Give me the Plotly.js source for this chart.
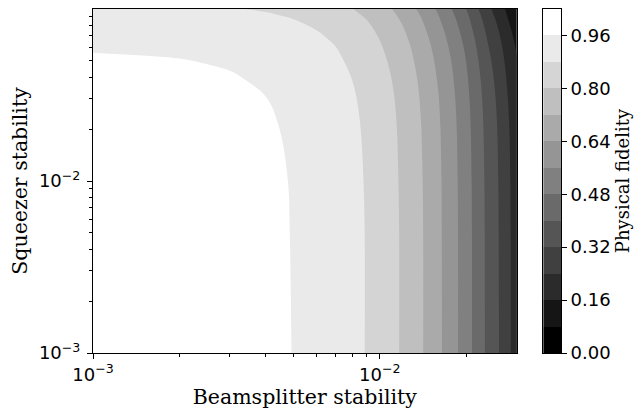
<!DOCTYPE html>
<html>
<head>
<meta charset="utf-8">
<script src="https://cdn.plot.ly/plotly-3.0.1.min.js"></script>
<style>html,body{margin:0;padding:0;background:#fff;}#chart{width:640px;height:410px;}</style>
</head>
<body>
<div id="chart"></div>
<script>
// Beamsplitter stability (x) and squeezer stability (y) grid
const bsStability = [0.001,0.002,0.003,0.004,0.005,0.006,0.007,0.008,0.009,0.010,0.011,0.012,0.013,0.014,0.016,0.018,0.020,0.022,0.024,0.026,0.028,0.030];
const sqStability = [0.001,0.005,0.01,0.02,0.03,0.04,0.05,0.06,0.07,0.08,0.09,0.1];
// Physical fidelity, one row per squeezer stability value
const fidelity = [
  [0.998,0.993,0.985,0.973,0.959,0.942,0.921,0.899,0.877,0.849,0.820,0.791,0.758,0.726,0.657,0.587,0.516,0.443,0.375,0.321,0.257,0.204],
  [0.998,0.993,0.984,0.973,0.958,0.941,0.921,0.899,0.877,0.848,0.820,0.791,0.757,0.726,0.656,0.587,0.516,0.442,0.374,0.319,0.256,0.203],
  [0.996,0.992,0.983,0.972,0.957,0.940,0.919,0.898,0.875,0.847,0.818,0.789,0.756,0.724,0.655,0.585,0.514,0.440,0.372,0.317,0.254,0.201],
  [0.992,0.987,0.979,0.967,0.953,0.936,0.915,0.893,0.871,0.842,0.814,0.785,0.751,0.719,0.650,0.580,0.509,0.434,0.366,0.311,0.248,0.195],
  [0.985,0.980,0.972,0.961,0.946,0.929,0.909,0.887,0.865,0.836,0.808,0.778,0.745,0.712,0.643,0.572,0.501,0.426,0.358,0.302,0.239,0.187],
  [0.977,0.972,0.964,0.952,0.938,0.921,0.901,0.879,0.857,0.828,0.799,0.770,0.736,0.703,0.633,0.562,0.491,0.415,0.347,0.290,0.227,0.176],
  [0.967,0.962,0.954,0.943,0.928,0.911,0.891,0.869,0.847,0.818,0.789,0.760,0.725,0.693,0.622,0.551,0.479,0.403,0.334,0.277,0.215,0.165],
  [0.955,0.950,0.942,0.931,0.917,0.900,0.881,0.858,0.836,0.807,0.778,0.748,0.714,0.681,0.610,0.538,0.466,0.389,0.319,0.263,0.201,0.152],
  [0.942,0.938,0.930,0.919,0.904,0.888,0.868,0.846,0.823,0.795,0.766,0.735,0.700,0.667,0.596,0.523,0.451,0.374,0.304,0.247,0.186,0.139],
  [0.928,0.923,0.915,0.905,0.891,0.874,0.854,0.832,0.810,0.781,0.752,0.721,0.686,0.652,0.580,0.508,0.435,0.358,0.288,0.231,0.171,0.125],
  [0.912,0.908,0.900,0.890,0.876,0.859,0.839,0.817,0.795,0.766,0.737,0.706,0.670,0.637,0.564,0.491,0.419,0.341,0.271,0.215,0.156,0.112],
  [0.896,0.892,0.884,0.874,0.860,0.844,0.824,0.802,0.780,0.751,0.721,0.690,0.654,0.620,0.547,0.473,0.401,0.323,0.254,0.198,0.141,0.099]
];
// Contour levels (0 to 1.04 in steps of 0.08) and colour bar ticks
const levels = [0,0.08,0.16,0.24,0.32,0.40,0.48,0.56,0.64,0.72,0.80,0.88,0.96,1.04];
const cbTicks = [0,0.16,0.32,0.48,0.64,0.80,0.96];
const xTickVals = [0.001, 0.01];
const xTickText = ['10<sup>\u22123</sup>', '10<sup>\u22122</sup>'];
const yTickVals = [0.001, 0.01];
const yTickText = ['10<sup>\u22123</sup>', '10<sup>\u22122</sup>'];
const xMinor = [0.002,0.003,0.004,0.005,0.006,0.007,0.008,0.009,0.02];
const yMinor = [0.002,0.003,0.004,0.005,0.006,0.007,0.008,0.009,0.02,0.03,0.04,0.05,0.06,0.07,0.08,0.09];

const step = levels[1] - levels[0];
const bandMid = levels.slice(0, -1).map(v => v + step / 2);
const gray = [[0, '#000000'], [1, '#ffffff']];

const tickFont = {family: 'DejaVu Sans', size: 18, color: '#000'};
const titleFont = {family: 'DejaVu Serif', size: 20.5, color: '#000'};
const cbTitleFont = {family: 'DejaVu Serif', size: 18, color: '#000'};

const main = {
  type: 'contour',
  x: bsStability, y: sqStability, z: fidelity,
  autocontour: false,
  contours: {start: levels[1], end: levels[levels.length - 2], size: step, coloring: 'fill', showlines: false},
  line: {width: 0},
  colorscale: gray,
  showscale: false,
  hoverinfo: 'skip'
};
const bar = {
  type: 'heatmap',
  x: [0], y: bandMid, z: bandMid.map(v => [v]),
  zmin: bandMid[0], zmax: bandMid[bandMid.length - 1],
  colorscale: gray, showscale: false,
  xaxis: 'x2', yaxis: 'y2', hoverinfo: 'skip'
};

const layout = {
  width: 640, height: 410,
  margin: {l: 93, r: 79, t: 9, b: 57},
  paper_bgcolor: '#fff', plot_bgcolor: '#fff',
  showlegend: false,
  xaxis: {
    type: 'log', domain: [0, 0.9053], range: [Math.log10(bsStability[0]), Math.log10(bsStability[bsStability.length - 1])],
    tickmode: 'array', tickvals: xTickVals, ticktext: xTickText,
    ticks: 'outside', ticklen: 5, tickwidth: 1, tickcolor: '#000',
    minor: {tickmode: 'array', tickvals: xMinor, ticks: 'outside', ticklen: 3, tickwidth: 1, tickcolor: '#000'},
    showline: true, linecolor: '#000', linewidth: 1, mirror: true,
    showgrid: false, zeroline: false, tickfont: tickFont,
    title: {text: 'Beamsplitter stability', font: titleFont, standoff: 6}
  },
  yaxis: {
    type: 'log', range: [Math.log10(sqStability[0]), Math.log10(sqStability[sqStability.length - 1])],
    tickmode: 'array', tickvals: yTickVals, ticktext: yTickText,
    ticks: 'outside', ticklen: 5, tickwidth: 1, tickcolor: '#000',
    minor: {tickmode: 'array', tickvals: yMinor, ticks: 'outside', ticklen: 3, tickwidth: 1, tickcolor: '#000'},
    showline: true, linecolor: '#000', linewidth: 1, mirror: true,
    showgrid: false, zeroline: false, tickfont: tickFont, ticklabelstandoff: 3,
    title: {text: 'Squeezer stability', font: titleFont, standoff: 5}
  },
  xaxis2: {
    domain: [0.962, 1.0], anchor: 'y2', range: [-0.5, 0.5],
    showticklabels: false, ticks: '', showgrid: false, zeroline: false,
    showline: true, linecolor: '#000', linewidth: 1, mirror: true
  },
  yaxis2: {
    anchor: 'x2', side: 'right', range: [levels[0], levels[levels.length - 1]],
    tickmode: 'array', tickvals: cbTicks, ticktext: cbTicks.map(v => v.toFixed(2)),
    ticks: 'outside', ticklen: 5, tickwidth: 1, tickcolor: '#000',
    showline: true, linecolor: '#000', linewidth: 1, mirror: true,
    showgrid: false, zeroline: false, tickfont: tickFont,
    title: {text: 'Physical fidelity', font: cbTitleFont, standoff: 6}
  }
};

Plotly.newPlot('chart', [main, bar], layout, {displayModeBar: false, staticPlot: true});
</script>
</body>
</html>
